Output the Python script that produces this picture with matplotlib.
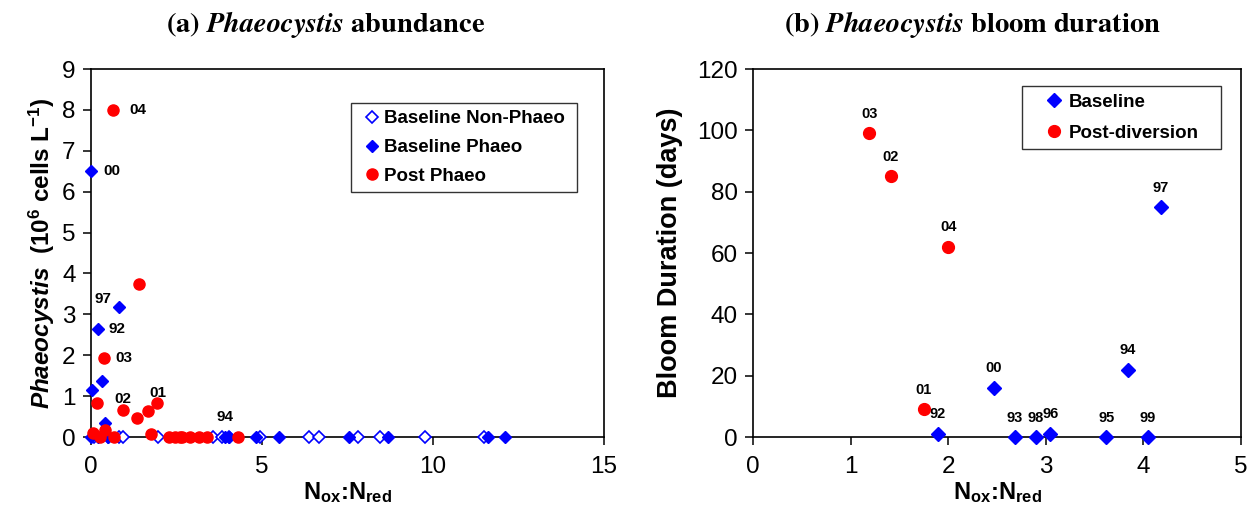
import numpy as np
import matplotlib.pyplot as plt

plt.rcParams['font.family'] = 'Liberation Sans'
plt.rcParams['mathtext.fontset'] = 'custom'
plt.rcParams['mathtext.rm'] = 'Liberation Sans'
plt.rcParams['mathtext.bf'] = 'Liberation Sans:bold'
plt.rcParams['mathtext.it'] = 'Liberation Sans:italic'
plt.rcParams['mathtext.bfit'] = 'Liberation Sans:bold:italic'

# (a) abundance vs Nox:Nred
non_x = [0.1, 0.5, 0.81, 0.93, 1.96, 3.58, 3.82, 4.04, 4.94, 6.38, 6.67, 7.81, 8.46, 9.76, 11.5]
non_y = [0] * len(non_x)

phaeo_x = [0.0, 0.81, 0.2, 0.33, 0.03, 0.4, 0.0, 0.2, 0.5, 3.92, 4.04, 4.82, 5.51, 7.55, 8.68, 11.6, 12.1]
phaeo_y = [6.5, 3.17, 2.63, 1.36, 1.14, 0.34, 0, 0, 0, 0, 0, 0, 0, 0, 0, 0, 0]

post_x = [0.64, 1.41, 0.38, 0.17, 0.94, 1.35, 1.68, 1.92, 1.75, 0.06, 0.42, 0.27, 0.66,
          2.27, 2.47, 2.6, 2.67, 2.9, 3.15, 3.4, 4.3]
post_y = [8.0, 3.75, 1.94, 0.83, 0.67, 0.46, 0.64, 0.82, 0.07, 0.11, 0.16, 0, 0,
          0, 0, 0, 0, 0, 0, 0, 0]

# year labels for panel (a): text, x, y
a_labels = ['04', '00', '97', '92', '03', '02', '01', '94']
a_lab_x = [0.64, 0.0, 0.81, 0.2, 0.38, 0.94, 1.92, 3.92]
a_lab_y = [8.0, 6.5, 3.17, 2.63, 1.94, 0.67, 0.82, 0.0]

# (b) bloom duration
base_years = ['92', '00', '93', '98', '96', '95', '94', '99', '97']
base_x = [1.896, 2.468, 2.68, 2.9, 3.048, 3.62, 3.844, 4.048, 4.176]
base_days = [1, 16, 0, 0, 1, 0, 22, 0, 75]

post_years = ['03', '02', '04', '01']
post_bx = [1.19, 1.41, 2.0, 1.75]
post_days = [99, 85, 62, 9]

W, H = 1254, 508
fig = plt.figure(figsize=(W / 100, H / 100), dpi=100)
ax1 = fig.add_axes([91 / W, 71 / H, 513 / W, 368 / H])
ax2 = fig.add_axes([753 / W, 71 / H, 488 / W, 368 / H])

blue = '#0000ff'
red = '#ff0000'

ax1.plot(non_x, non_y, 'D', ms=6.5, mfc='white', mec=blue, mew=1.2,
         ls='none', clip_on=False, label='Baseline Non-Phaeo', zorder=3)
ax1.plot(phaeo_x, phaeo_y, 'D', ms=6.5, color=blue, ls='none', clip_on=False,
         label='Baseline Phaeo', zorder=4)
ax1.plot(post_x, post_y, 'o', ms=8, color=red, ls='none', clip_on=False,
         label='Post Phaeo', zorder=5)

# offsets in points (dx, dy) and alignment for each label
a_off = [(12, 0, 'left'), (9, 0, 'left'), (-11, 6, 'center'), (7.6, 0, 'left'),
         (8, 0, 'left'), (0, 7.7, 'center'), (1, 7.5, 'center'), (0, 14.5, 'center')]
for t, x, y, (dx, dy, ha) in zip(a_labels, a_lab_x, a_lab_y, a_off):
    ax1.annotate(t, (x, y), xytext=(dx, dy), textcoords='offset points',
                 ha=ha, va='center', fontsize=11, fontweight='bold')

ax1.set_xlim(0, 15)
ax1.set_ylim(0, 9)
ax1.set_xticks([0, 5, 10, 15])
ax1.set_yticks(range(10))

ax2.plot(base_x, base_days, 'D', ms=7, color=blue, ls='none', clip_on=False,
         label='Baseline', zorder=4)
ax2.plot(post_bx, post_days, 'o', ms=8.5, color=red, ls='none', clip_on=False,
         label='Post-diversion', zorder=5)
for t, x, y in zip(base_years + post_years, base_x + post_bx, base_days + post_days):
    ax2.annotate(t, (x, y), xytext=(0, 14), textcoords='offset points',
                 ha='center', va='center', fontsize=10.5, fontweight='bold')

ax2.set_xlim(0, 5)
ax2.set_ylim(0, 120)
ax2.set_xticks(range(6))
ax2.set_yticks(range(0, 121, 20))

for ax in (ax1, ax2):
    for s in ax.spines.values():
        s.set_linewidth(1.2)
    ax.tick_params(direction='out', length=6, width=1.1, labelsize=17.5, pad=5)
    ax.tick_params(axis='x', pad=8)
    ax.set_xlabel(r'N$_\mathbf{ox}$:N$_\mathbf{red}$', fontsize=17, fontweight='bold',
                  labelpad=1)

ax1.set_ylabel(r'$\mathbfit{Phaeocystis}$  (10$^\mathbf{6}$ cells L$^\mathbf{-1}$)',
               fontsize=17.5, fontweight='bold', labelpad=4)
ax2.set_ylabel('Bloom Duration (days)', fontsize=19.5, fontweight='bold', labelpad=10)

leg1 = ax1.legend(loc='upper left', bbox_to_anchor=(0.507, 0.908, 0.4405, 0), mode='expand',
                  prop={'weight': 'bold', 'size': 13.5}, frameon=True, fancybox=False,
                  edgecolor='black', borderpad=0.4, handlelength=1.46,
                  handletextpad=-0.1, labelspacing=0.62, borderaxespad=0)
leg1.get_frame().set_linewidth(1.0)
leg2 = ax2.legend(loc='upper left', bbox_to_anchor=(0.551, 0.954, 0.408, 0), mode='expand',
                  prop={'weight': 'bold', 'size': 13.5}, frameon=True, fancybox=False,
                  edgecolor='black', borderpad=0.4, handlelength=2.6,
                  handletextpad=-0.5, labelspacing=0.75, borderaxespad=0)
leg2.get_frame().set_linewidth(1.0)

fig.text(326 / W, 1 - 25 / H, r'$\mathbf{(a)}\ \mathbfit{Phaeocystis}\ \mathbf{abundance}$',
         ha='center', va='center', fontsize=20.5, math_fontfamily='stix')
fig.text(972 / W, 1 - 25 / H, r'$\mathbf{(b)}\ \mathbfit{Phaeocystis}\ \mathbf{bloom\ duration}$',
         ha='center', va='center', fontsize=20.5, math_fontfamily='stix')

fig.savefig('out.png', dpi=100)
